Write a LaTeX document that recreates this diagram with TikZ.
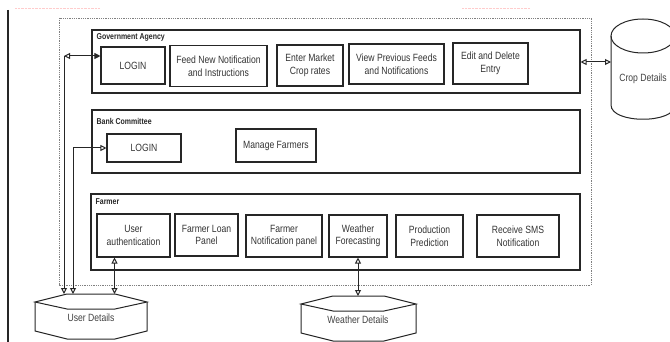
\documentclass[tikz,border=0pt]{standalone}
\usepackage{fontspec}
\setmainfont[FakeStretch=0.82]{Liberation Sans}
\usepackage{tikz}
\usetikzlibrary{arrows.meta,calc}

\tikzset{
  openhead/.tip={Triangle[open,length=6pt,width=6pt]},
  fullhead/.tip={Triangle[length=6pt,width=6pt]},
  box/.style={draw=black!85, line width=1.1pt, align=center, text=black!80,
    font=\fontsize{10.5}{12.5}\selectfont, inner sep=1pt},
  panel/.style={draw=black!85, line width=1.1pt},
  title/.style={anchor=north west, inner sep=0pt, text=black!85,
    font=\bfseries\fontsize{8.5}{10}\selectfont},
  db/.style={draw=black!85, line width=1pt},
  dbtext/.style={text=black!75, font=\fontsize{10.5}{12}\selectfont},
  link/.style={line width=1pt, black!85},
}

% left, right, corner y, bottom of the sides
\newcommand{\hexdb}[4]{%
  \draw[db] (#1,#3) -- (#1+32,#3-8) -- (#2-32,#3-8) -- (#2,#3)
    -- (#2-32,#3+7) -- (#1+32,#3+7) -- cycle;
  \draw[db] (#1,#3) -- (#1,#4) -- (#1+32,#4+8) -- (#2-32,#4+8) -- (#2,#4) -- (#2,#3);
}

\begin{document}
\begin{tikzpicture}[x=1pt,y=-1pt]
\useasboundingbox (0,0) rectangle (670,342);
\clip (0,0) rectangle (670,342);

\draw[line width=1.6pt, black!85] (8,10) -- (8,342);
\draw[red!20, densely dotted] (15,8) -- (100,8);
\draw[red!20, densely dotted] (462,8) -- (530,8);

\draw[densely dotted, gray, line width=0.8pt] (59,18) rectangle (591,285);

% Government Agency
\node[panel, minimum width=488pt, minimum height=63pt] (gov) at (336,61.5) {};
\node[title] at ([shift={(5pt,-4pt)}]gov.north west) {Government Agency};
\node[box, minimum width=64pt, minimum height=37pt] (glogin) at (133,65.5) {LOGIN};
\node[box, minimum width=97pt, minimum height=41pt] (gfeed) at (218.5,66) {Feed New Notification\\and Instructions};
\node[box, minimum width=66pt, minimum height=41pt] (grates) at (310,65.5) {Enter Market\\Crop rates};
\node[box, minimum width=95pt, minimum height=40pt] (gview) at (396.5,64) {View Previous Feeds\\and Notifications};
\node[box, minimum width=75pt, minimum height=41pt] (gedit) at (490.5,63.5) {Edit and Delete\\Entry};

% Bank Committee
\node[panel, minimum width=488pt, minimum height=63pt] (bank) at (336,141.5) {};
\node[title] at ([shift={(5pt,-9pt)}]bank.north west) {Bank Committee};
\node[box, minimum width=74pt, minimum height=28pt] (blogin) at (144,148) {LOGIN};
\node[box, minimum width=80pt, minimum height=33pt] (bmanage) at (276,145.5) {Manage Farmers};

% Farmer
\node[panel, minimum width=489pt, minimum height=76pt] (farmer) at (335.5,232) {};
\node[title] at ([shift={(5pt,-5pt)}]farmer.north west) {Farmer};
\node[box, minimum width=73pt, minimum height=43pt] (fauth) at (133.5,235.5) {User\\authentication};
\node[box, minimum width=63pt, minimum height=42pt] (floan) at (206.5,235) {Farmer Loan\\Panel};
\node[box, minimum width=76pt, minimum height=42pt] (fnotif) at (284,236) {Farmer\\Notification panel};
\node[box, minimum width=58pt, minimum height=42pt] (fweather) at (358,236) {Weather\\Forecasting};
\node[box, minimum width=67pt, minimum height=42pt] (fprod) at (429.5,236) {Production\\Prediction};
\node[box, minimum width=82pt, minimum height=42pt] (fsms) at (518,236) {Receive SMS\\Notification};

% stores
\hexdb{35}{147}{302}{331}
\node[dbtext] (ud) at (91,318) {User Details};
\coordinate (udtop) at (91,294);
\hexdb{301}{416}{304}{333}
\node[dbtext] (wd) at (358,320) {Weather Details};
\coordinate (wdtop) at (358,296);
\draw[db] (643,36) ellipse [x radius=32pt, y radius=17pt];
\draw[db] (611,36) -- (611,105) .. controls (611,124) and (675,124) .. (675,105) -- (675,36);
\node[dbtext] (crop) at (643,79) {Crop Details};

% links
\coordinate (gturn) at (64,56);
\coordinate (bturn) at (73,148);
\coordinate (authport) at ([xshift=-19pt]fauth.south);
\coordinate (cropin) at (611,62);
\draw[link, openhead-fullhead] (gturn) -- (gturn -| glogin.west);
\draw[link, -openhead] (gturn) -- (gturn |- udtop);
\draw[link, -openhead] (bturn) -- (bturn -| blogin.west);
\draw[link, -openhead] (bturn) -- (bturn |- udtop);
\draw[link, openhead-openhead] (authport) -- (authport |- udtop);
\draw[link, openhead-openhead] (fweather.south) -- (fweather.south |- wdtop);
\draw[link, openhead-openhead] (gov.east |- cropin) -- (cropin);
\end{tikzpicture}
\end{document}
